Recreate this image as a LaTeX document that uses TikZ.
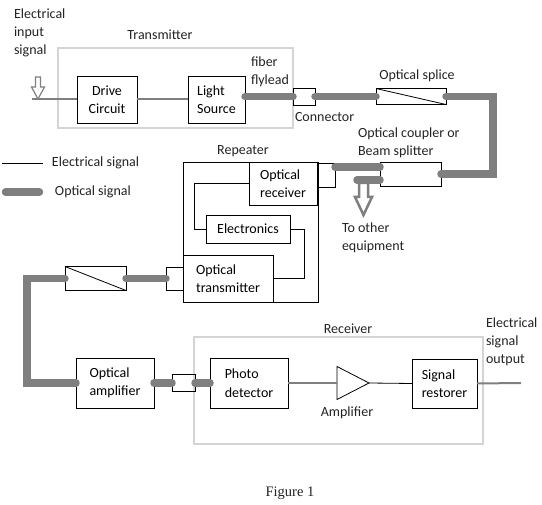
\documentclass[tikz,border=0pt]{standalone}
\usepackage{fontspec}
\setmainfont{Carlito}
\newfontfamily\figfont{Liberation Serif}
\usetikzlibrary{shapes.geometric}
\definecolor{fibergray}{RGB}{127,127,127}
\definecolor{framegray}{RGB}{212,212,212}
\definecolor{ink}{RGB}{35,35,35}
\tikzset{%
  txt/.style={inner sep=0, outer sep=0, align=left, text=ink,
    font=\fontsize{14}{18}\selectfont},% free labels
  block/.style={draw, line width=0.8, inner sep=0, outer sep=0, align=left,
    font=\fontsize{14}{18.5}\selectfont},% unit boxes
  housing/.style={draw=framegray, line width=1.2, inner sep=0, outer sep=0},% light frames
  plug/.style={draw, line width=0.8, inner sep=0, outer sep=0},% connectors, splices
  fiber/.style={draw=fibergray, line width=7.5, line cap=round},% optical signal
  wire/.style={draw=fibergray, line width=2},% electrical signal, gray
  thinwire/.style={draw=black, line width=0.8},% electrical signal, black
  hollow/.style={draw=fibergray, fill=white, line width=1.2},% block arrows
  amptri/.style={draw, line width=0.8, isosceles triangle, isosceles triangle stretches,
    minimum width=33, minimum height=32, inner sep=0, outer sep=0, anchor=west}
}

\begin{document}
\begin{tikzpicture}[x=1pt, y=-1pt]
\useasboundingbox (0,0) rectangle (542,505);

% frames
\node[housing, minimum width=235, minimum height=80] (txbox) at (175.5,88) {};
\node[housing, minimum width=289, minimum height=107] (rxbox) at (338.5,390.5) {};
\node[plug, minimum width=135, minimum height=140] (repbox) at (250.5,232) {};

% blocks
\node[block, align=center, minimum width=60, minimum height=47] (drv) at (107,99.5) {Drive\\Circuit};
\node[block, minimum width=57, minimum height=47] (lsrc) at (216.5,99.5) {Light\\Source};
\node[block, minimum width=68, minimum height=43] (orx) at (283,183.5) {Optical\\receiver};
\node[block, minimum width=84, minimum height=28] (elec) at (248,229) {Electronics};
\node[block, minimum width=90, minimum height=47] (otx) at (228,278.5) {Optical\\transmitter};
\node[block, minimum width=78, minimum height=50] (oamp) at (115,383) {Optical\\amplifier};
\node[block, minimum width=78, minimum height=50] (pd) at (249,383) {Photo\\detector};
\node[block, minimum width=65, minimum height=49] (rest) at (444.5,383.5) {Signal\\restorer};
\node[amptri] (amp) at (337,383) {};

% connectors, splices, coupler
\node[plug, minimum width=22, minimum height=17] (conn1) at (304,96.5) {};
\node[plug, minimum width=17, minimum height=24] (conn2) at (326.5,175) {};
\node[plug, minimum width=17, minimum height=23] (conn3) at (174.5,278.5) {};
\node[plug, minimum width=23, minimum height=17] (conn4) at (183.5,383) {};
\node[plug, minimum width=70, minimum height=16] (spl1) at (411,96.5) {};
\node[plug, minimum width=61, minimum height=24] (spl2) at (95.5,278.5) {};
\node[plug, minimum width=61, minimum height=24] (cpl) at (410.5,174) {};
\draw[thinwire] (spl1.north west) -- (spl1.south east);
\draw[thinwire] (spl2.north west) -- (spl2.south east);

% labels
\node[txt, anchor=west] (inlbl) at (14,33) {Electrical\\input\\signal};
\node[txt] (txlbl) at (160,35) {Transmitter};
\node[txt, anchor=west] (fiblbl) at (251,72) {fiber\\flylead};
\node[txt, anchor=west] (connlbl) at (295,117) {Connector};
\node[txt] (spllbl) at (417,76) {Optical splice};
\node[txt, anchor=west] (cpllbl) at (358,143) {Optical coupler or\\Beam splitter};
\node[txt] (replbl) at (243,151) {Repeater};
\node[txt, anchor=west] (eqlbl) at (342,237.5) {To other\\equipment};
\node[txt] (rxlbl) at (348,329) {Receiver};
\node[txt] (amplbl) at (347,413) {Amplifier};
\node[txt, anchor=west] (outlbl) at (486,342) {Electrical\\signal\\output};
\node[txt, anchor=west] (lgel) at (52,163) {Electrical signal};
\node[txt, anchor=west] (lgop) at (55,192) {Optical signal};
\node[txt, font=\figfont\fontsize{14.5}{17}\selectfont] (fig) at (290,493) {Figure 1};

% legend
\coordinate (lgea) at (2,163);
\coordinate (lgeb) at (43,163);
\coordinate (lgoa) at (5.5,192);
\coordinate (lgob) at (39.5,192);
\draw[thinwire] (lgea) -- (lgeb);
\draw[fiber] (lgoa) -- (lgob);

% transmitter
\coordinate (ein) at (32,99.5);
\draw[hollow] (38,99) -- (31.5,87) -- (35.5,87) -- (35.5,77) -- (40.5,77) -- (40.5,87) -- (44.5,87) -- cycle;
\draw[wire] (ein) -- (drv.west);
\draw[wire] (drv.east) -- (lsrc.west);
\draw[fiber] (lsrc.east |- conn1.west) -- (conn1.west);
\draw[fiber] (conn1.east) -- (spl1.west);
\draw[fiber] (spl1.east) -- ++(47,0) |- (cpl.east);

% coupler and tap
\coordinate (tap) at (357,180);
\draw[hollow, line width=2.5] (363.5,215) -- (355,197) -- (359,197) -- (359,183) -- (368,183) -- (368,197) -- (372,197) -- cycle;
\draw[fiber] ([yshift=7]cpl.west) -- ([yshift=7]cpl.west -| conn2.east);
\draw[fiber] (tap) -- (tap -| cpl.west);

% repeater
\draw[thinwire] (orx.west) -- ++(-55,0) |- (elec.west);
\draw[thinwire] (elec.east) -- ++(14,0) |- (otx.east);
\draw[fiber] (conn3.west) -- (spl2.east);
\draw[fiber] (spl2.west) -- ++(-38,0) |- (oamp.west);
\draw[fiber] (oamp.east) -- (conn4.west);
\draw[fiber] (conn4.east) -- (pd.west);

% receiver
\coordinate (eout) at (521,383);
\draw[wire] (pd.east) -- (amp.west);
\draw[thinwire] (amp.east) -- (rest.west);
\draw[wire] (rest.east) -- (eout);

\end{tikzpicture}
\end{document}
